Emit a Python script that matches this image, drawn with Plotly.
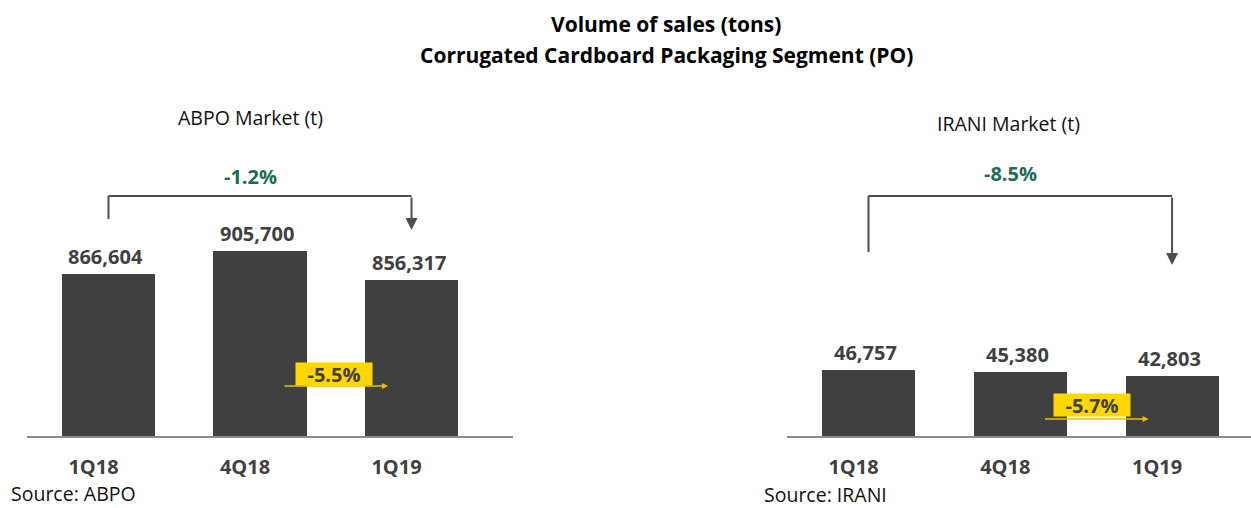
import plotly.graph_objects as go

# ---- data ----
quarters = ["1Q18", "4Q18", "1Q19"]
abpo_tons = [866604, 905700, 856317]
irani_tons = [46757, 45380, 42803]
abpo_total_change = "-1.2%"
abpo_qoq_change = "-5.5%"
irani_total_change = "-8.5%"
irani_qoq_change = "-5.7%"
title_lines = ["Volume of sales (tons)", "Corrugated Cardboard Packaging Segment (PO)"]
panel_titles = ["ABPO Market (t)", "IRANI Market (t)"]
sources = ["Source: ABPO", "Source: IRANI"]

FONT = "Open Sans"
BAR = "#404040"
GREEN = "#1B6B57"
YELLOW = "#FFD700"
AX = "#8C8C8C"

fig = go.Figure()
fig.add_trace(go.Bar(x=quarters, y=abpo_tons, width=0.614, marker=dict(color=BAR, line=dict(width=0)),
                     xaxis="x", yaxis="y", hoverinfo="skip", showlegend=False))
fig.add_trace(go.Bar(x=quarters, y=irani_tons, width=0.613, marker=dict(color=BAR, line=dict(width=0)),
                     xaxis="x2", yaxis="y2", hoverinfo="skip", showlegend=False))

W, H = 1251, 508
ydom = [1 - 436 / H, 1 - 100 / H]

def xax(domain, rng, anchor):
    return dict(domain=domain, range=rng, type="category", anchor=anchor,
                showline=True, linecolor=AX, linewidth=2, ticks="", showgrid=False,
                zeroline=False, fixedrange=True, ticklabelshift=-15, ticklabelstandoff=12,
                tickfont=dict(family=FONT, size=20, color=BAR, weight="bold"))

fig.update_layout(
    width=W, height=H, margin=dict(l=0, r=0, t=0, b=0),
    paper_bgcolor="white", plot_bgcolor="white", bargap=0,
    xaxis=xax([27 / W, 513 / W], [-0.538, 2.67], "y"),
    yaxis=dict(domain=ydom, range=[594100, 1158700], visible=False, fixedrange=True),
    xaxis2=xax([787 / W, 1.0], [-0.537, 2.52], "y2"),
    yaxis2=dict(domain=ydom, range=[0, 238650], visible=False, fixedrange=True),
)

ann = []
shapes = []

def py(px):
    return 1 - px / H

def txt(text, x, y, size, color, xanchor="center", bold=False):
    return dict(text=("<b>" + text + "</b>") if bold else text, x=x / W, y=py(y),
                xref="paper", yref="paper", xanchor=xanchor, yanchor="middle", borderpad=0,
                showarrow=False, font=dict(family=FONT, size=size, color=color))

# titles
ann.append(txt(title_lines[0], 666, 24, 21, "black", bold=True))
ann.append(txt(title_lines[1], 666, 55, 21, "black", bold=True))
# panel titles
ann.append(txt(panel_titles[0], 250, 117, 19.5, "#111111"))
ann.append(txt(panel_titles[1], 1008, 123, 19.5, "#111111"))
# sources
ann.append(txt(sources[0], 10, 493, 19.5, "#111111", xanchor="left"))
ann.append(txt(sources[1], 763, 494, 19.5, "#111111", xanchor="left"))

# value labels
for xr, yr, vals in (("x", "y", abpo_tons), ("x2", "y2", irani_tons)):
    for q, v in zip(quarters, vals):
        ann.append(dict(text=f"<b>{v:,}</b>", x=q, y=v, xref=xr, yref=yr, yanchor="bottom",
                        yshift=2, xshift=-3, showarrow=False,
                        font=dict(family=FONT, size=20, color=BAR)))

# brackets
i0, i2 = quarters.index("1Q18"), quarters.index("1Q19")
for xr, ytop, ylow, ytip, total, ty in (("x", 196, 219, 230, abpo_total_change, 176),
                                        ("x2", 196, 252, 265, irani_total_change, 173)):
    shapes.append(dict(type="line", xref=xr, yref="paper", x0=i0, x1=i0, y0=py(ylow), y1=py(ytop),
                       line=dict(color="#4D4D4D", width=2)))
    shapes.append(dict(type="line", xref=xr, yref="paper", x0=i0, x1=i2, y0=py(ytop), y1=py(ytop),
                       line=dict(color="#4D4D4D", width=2)))
    ann.append(dict(text="", x=i2, y=py(ytip), xref=xr, yref="paper", showarrow=True,
                    ax=0, ay=-(ytip - ytop), axref="pixel", ayref="pixel",
                    arrowhead=2, arrowsize=1.2, arrowwidth=2, arrowcolor="#4D4D4D", standoff=0))
    ann.append(dict(text=f"<b>{total}</b>", x=(i0 + i2) / 2, y=py(ty), xref=xr, yref="paper",
                    yanchor="middle", xshift=-10, showarrow=False,
                    font=dict(family=FONT, size=20, color=GREEN)))

# yellow q-o-q markers
for xr, yline, ybox, qoq, xs in (("x", 386, 374, abpo_qoq_change, -2),
                                 ("x2", 419, 405, irani_qoq_change, -4)):
    ann.append(dict(text="", x=1.845, y=py(yline), xref=xr, yref="paper", showarrow=True,
                    ax=-105, ay=0, arrowhead=2, arrowsize=0.8, arrowwidth=1.5,
                    arrowcolor="#E8C000", standoff=0))
    ann.append(dict(text=f"<b>{qoq}</b>", x=1.5, y=py(ybox), xref=xr, yref="paper", xshift=xs,
                    yanchor="middle", showarrow=False, bgcolor=YELLOW, width=76, height=22,
                    borderpad=0, font=dict(family=FONT, size=20, color=BAR)))

fig.update_layout(annotations=ann, shapes=shapes)
fig.write_html("out.html", config={"displayModeBar": False},
               post_script="document.body.style.margin='0';document.body.style.overflow='hidden';")
